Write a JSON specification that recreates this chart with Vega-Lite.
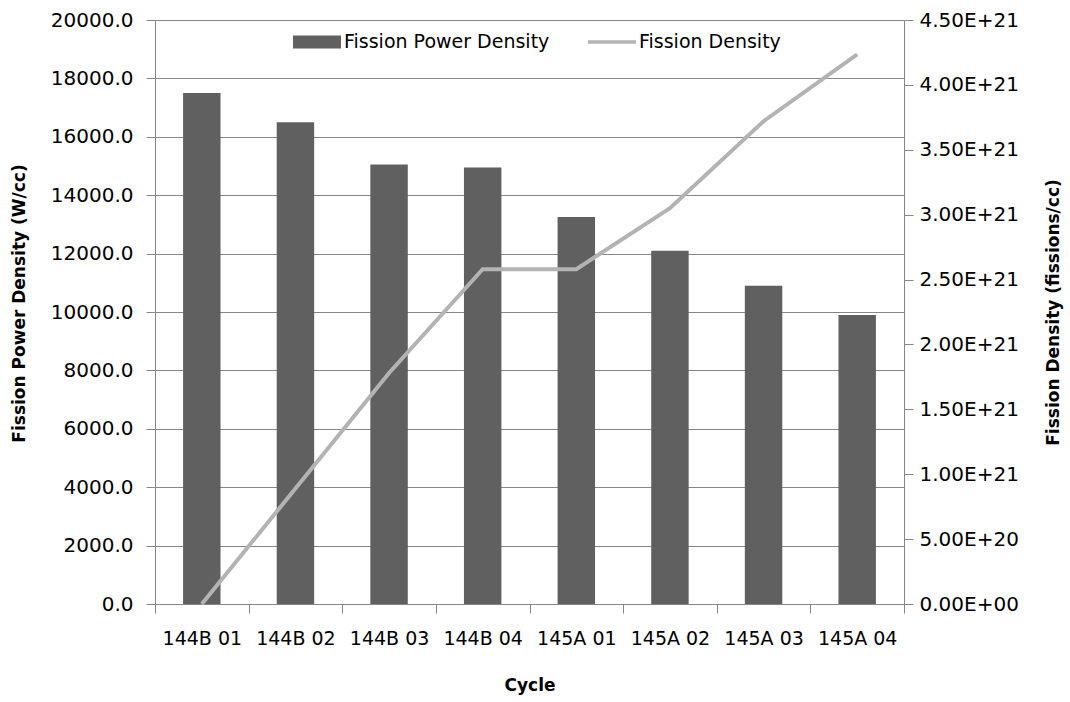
{
  "$schema": "https://vega.github.io/schema/vega-lite/v6.json",
  "width": 749,
  "height": 584,
  "autosize": {"type": "none"},
  "padding": {"left": 155, "top": 20, "right": 166, "bottom": 98},
  "background": "white",
  "config": {
    "font": "DejaVu Sans",
    "view": {"stroke": null},
    "axis": {
      "domainColor": "#868686",
      "tickColor": "#868686",
      "gridColor": "#868686",
      "gridOpacity": 1,
      "labelColor": "black",
      "titleColor": "black",
      "tickSize": 9,
      "titleFontWeight": "bold",
      "titleFontSize": 17,
      "labelFont": "DejaVu Sans"
    }
  },
  "data": {
    "values": [
      {"cycle": "144B 01", "power": 17500, "fd": 0},
      {"cycle": "144B 02", "power": 16500, "fd": 8.9e20},
      {"cycle": "144B 03", "power": 15050, "fd": 1.78e21},
      {"cycle": "144B 04", "power": 14950, "fd": 2.58e21},
      {"cycle": "145A 01", "power": 13250, "fd": 2.58e21},
      {"cycle": "145A 02", "power": 12100, "fd": 3.05e21},
      {"cycle": "145A 03", "power": 10900, "fd": 3.72e21},
      {"cycle": "145A 04", "power": 9900, "fd": 4.235e21}
    ]
  },
  "encoding": {
    "x": {
      "field": "cycle",
      "type": "nominal",
      "sort": null,
      "scale": {"paddingInner": 0, "paddingOuter": 0},
      "axis": {
        "title": "Cycle",
        "labelAngle": 0,
        "tickBand": "extent",
        "labelFontSize": 19,
        "labelPadding": 16,
        "titlePadding": 29,
        "grid": false
      }
    }
  },
  "layer": [
    {
      "mark": {"type": "bar", "width": {"band": 0.4}},
      "encoding": {
        "y": {
          "field": "power",
          "type": "quantitative",
          "scale": {"domain": [0, 20000], "nice": false},
          "axis": {
            "title": "Fission Power Density (W/cc)",
            "values": [0, 2000, 4000, 6000, 8000, 10000, 12000, 14000, 16000, 18000, 20000],
            "format": ".1f",
            "grid": true,
            "labelFontSize": 20,
            "labelPadding": 13,
            "titlePadding": 22,
            "titleY": 283
          }
        },
        "color": {
          "datum": "Fission Power Density",
          "type": "nominal",
          "scale": {"domain": ["Fission Power Density", "Fission Density"], "range": ["#606060", "#b3b3b3"]},
          "legend": {
            "orient": "none",
            "legendX": 138,
            "legendY": -2,
            "direction": "horizontal",
            "title": null,
            "labelFontSize": 19,
            "labelColor": "black",
            "labelLimit": 400,
            "symbolSize": 2304,
            "labelOffset": 3,
            "columnPadding": 38,
            "symbolType": "M-1,-0.27H1V0.27H-1Z",
            "encode": {
              "symbols": {
                "update": {
                  "shape": {"signal": "datum.value === 'Fission Density' ? 'M-1,-0.07H1V0.07H-1Z' : 'M-1,-0.27H1V0.27H-1Z'"},
                  "fill": {"scale": "color", "field": "value"},
                  "strokeWidth": {"value": 0},
                  "opacity": {"value": 1}
                }
              }
            }
          }
        }
      }
    },
    {
      "mark": {"type": "line", "strokeWidth": 4},
      "encoding": {
        "y": {
          "field": "fd",
          "type": "quantitative",
          "scale": {"domain": [0, 4.5e21], "nice": false},
          "axis": {
            "orient": "right",
            "title": "Fission Density (fissions/cc)",
            "titleAngle": -90,
            "values": [0, 5e20, 1e21, 1.5e21, 2e21, 2.5e21, 3e21, 3.5e21, 4e21, 4.5e21],
            "labelExpr": "datum.value == 0 ? '0.00E+00' : upper(format(datum.value, '.2e'))",
            "grid": false,
            "labelFontSize": 20,
            "labelPadding": 6,
            "titlePadding": 44
          }
        },
        "color": {"datum": "Fission Density", "type": "nominal"}
      }
    }
  ],
  "resolve": {"scale": {"y": "independent"}}
}
